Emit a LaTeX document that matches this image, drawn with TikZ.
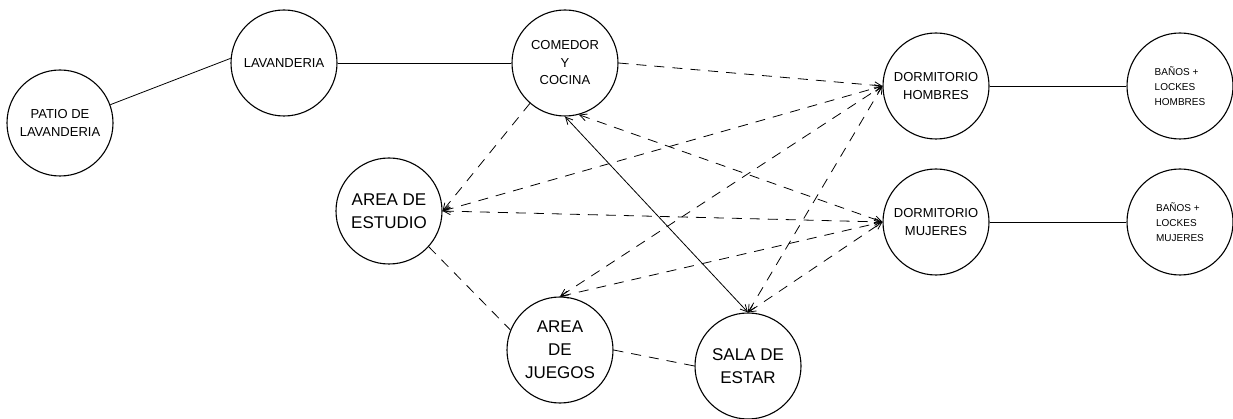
\documentclass[tikz,border=0pt]{standalone}
\usepackage{fontspec}
\setmainfont{Liberation Sans}
\usetikzlibrary{arrows.meta}
\tikzset{
  room/.style={draw, circle, line width=1.1pt, minimum size=106pt, inner sep=0pt, align=center, font=\fontsize{13}{17.5}\selectfont},
  bigroom/.style={room, font=\fontsize{17}{23}\selectfont},
  smallroom/.style={room, align=left, font=\fontsize{10}{15}\selectfont},
  link/.style={line width=0.8pt},
  dlink/.style={line width=0.8pt, dash pattern=on 10pt off 8pt},
  >={Straight Barb[length=7pt,width=7pt]}
}
\begin{document}
\begin{tikzpicture}[x=1pt,y=-1pt]
\useasboundingbox (0,0) rectangle (1233,419);
\node[room] (pat) at (60,123) {PATIO DE\\LAVANDERIA};
\node[room] (lav) at (284,63) {LAVANDERIA};
\node[room] (com) at (565,63) {COMEDOR\\Y\\COCINA};
\node[room] (dh) at (936,86) {DORMITORIO\\HOMBRES};
\node[room] (dm) at (936,222) {DORMITORIO\\MUJERES};
\node[smallroom] (bh) at (1180,86) {BAÑOS +\\LOCKES\\HOMBRES};
\node[smallroom] (bm) at (1180,222) {BAÑOS +\\LOCKES\\MUJERES};
\node[bigroom] (est) at (389,211) {AREA DE\\ESTUDIO};
\node[bigroom] (jue) at (560,350) {AREA\\DE\\JUEGOS};
\node[bigroom] (sal) at (748,366) {SALA DE\\ESTAR};

% solid connectors
\draw[link] (pat.20) -- (lav.175);
\draw[link] (lav.east) -- (com.west);
\draw[link] (dh.east) -- (bh.west);
\draw[link] (dm.east) -- (bm.west);
\draw[link,<->] (com.south) -- (sal.north);

% dashed connectors
\draw[dlink,->] (com.east) -- (dh.west);
\draw[dlink,->] (com.229) -- (est.east);
\draw[dlink,<->] (com.-75) -- (dm.west);
\draw[dlink,<->] (est.east) -- (dh.west);
\draw[dlink,<->] (est.east) -- (dm.west);
\draw[dlink,<->] (jue.north) -- (dh.west);
\draw[dlink,<->] (jue.north) -- (dm.west);
\draw[dlink,<->] (sal.north) -- (dh.west);
\draw[dlink,<->] (sal.north) -- (dm.west);
\draw[dlink] (est.-42) -- (jue.158);
\draw[dlink] (jue.east) -- (sal.west);
\end{tikzpicture}
\end{document}
